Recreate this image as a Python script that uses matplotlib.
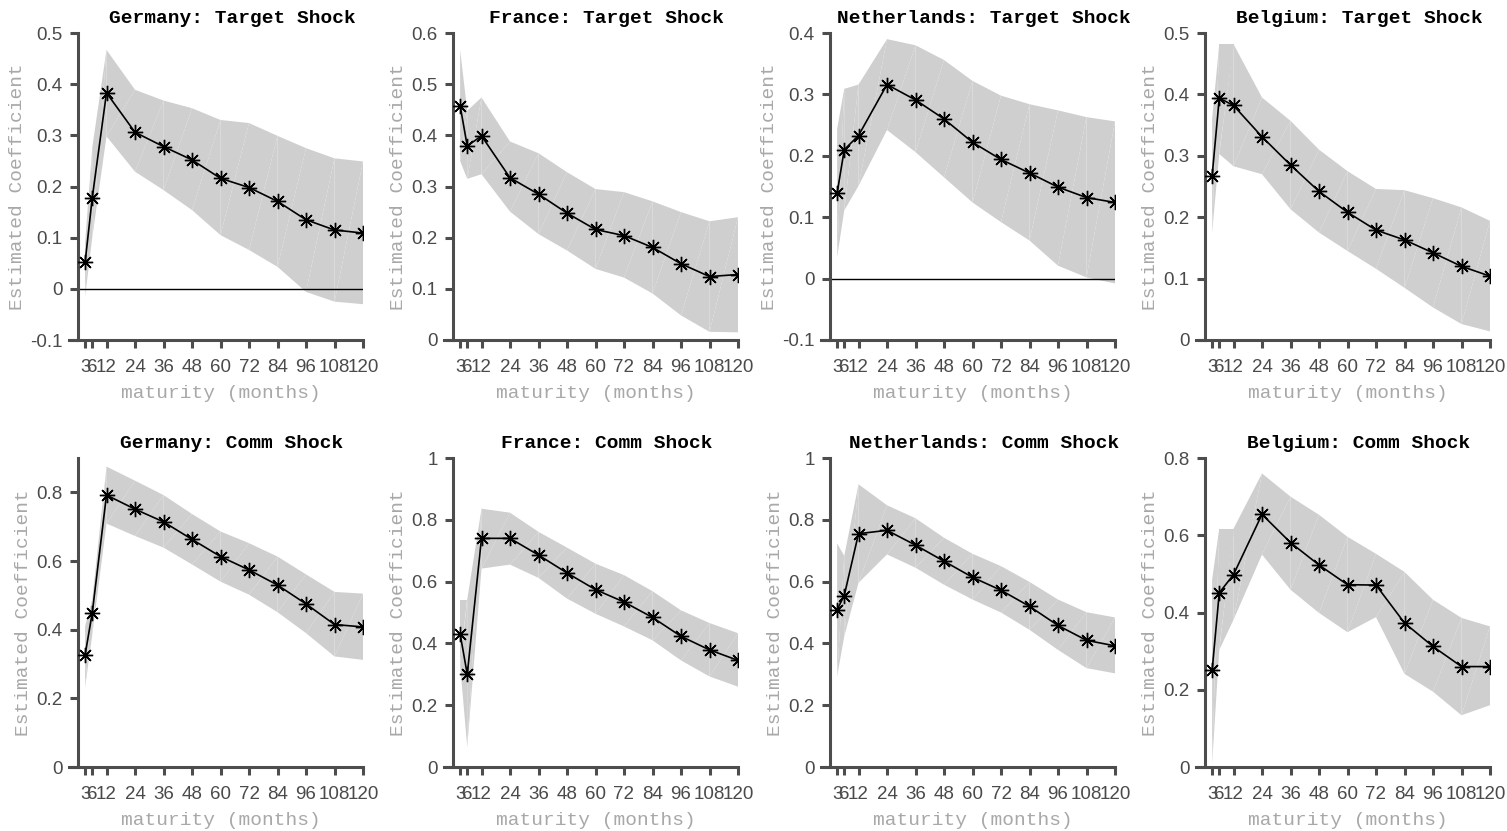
import numpy as np
import matplotlib
matplotlib.use("Agg")
import matplotlib.pyplot as plt
from matplotlib.collections import PolyCollection
from matplotlib.ticker import FuncFormatter

# ---------------- data ----------------
maturities = [3, 6, 12, 24, 36, 48, 60, 72, 84, 96, 108, 120]
tick_labels = ["3", "6", "12", "24", "36", "48", "60", "72", "84", "96", "108", "120"]

de_target_coef = [0.052, 0.178, 0.383, 0.306, 0.278, 0.252, 0.216, 0.198, 0.171, 0.135, 0.115, 0.109]
de_target_hi = [0.09, 0.276, 0.467, 0.389, 0.368, 0.353, 0.330, 0.324, 0.299, 0.275, 0.255, 0.249]
de_target_lo = [-0.015, 0.10, 0.298, 0.229, 0.193, 0.154, 0.105, 0.076, 0.043, -0.006, -0.025, -0.030]

fr_target_coef = [0.458, 0.379, 0.399, 0.317, 0.285, 0.248, 0.216, 0.204, 0.181, 0.149, 0.124, 0.128]
fr_target_hi = [0.567, 0.448, 0.474, 0.388, 0.365, 0.328, 0.295, 0.289, 0.271, 0.250, 0.232, 0.240]
fr_target_lo = [0.350, 0.315, 0.324, 0.251, 0.207, 0.175, 0.139, 0.122, 0.091, 0.048, 0.016, 0.015]

nl_target_coef = [0.139, 0.210, 0.233, 0.316, 0.291, 0.260, 0.222, 0.194, 0.172, 0.149, 0.132, 0.124]
nl_target_hi = [0.244, 0.309, 0.316, 0.390, 0.380, 0.356, 0.322, 0.298, 0.284, 0.274, 0.263, 0.256]
nl_target_lo = [0.035, 0.111, 0.151, 0.242, 0.206, 0.165, 0.124, 0.092, 0.062, 0.021, 0.002, -0.008]

be_target_coef = [0.267, 0.394, 0.382, 0.331, 0.285, 0.242, 0.208, 0.179, 0.163, 0.142, 0.120, 0.104]
be_target_hi = [0.36, 0.482, 0.482, 0.395, 0.357, 0.310, 0.275, 0.246, 0.244, 0.231, 0.216, 0.194]
be_target_lo = [0.175, 0.303, 0.283, 0.270, 0.213, 0.175, 0.145, 0.116, 0.085, 0.053, 0.026, 0.014]

de_comm_coef = [0.327, 0.449, 0.792, 0.751, 0.714, 0.663, 0.613, 0.574, 0.530, 0.475, 0.415, 0.408]
de_comm_hi = [0.41, 0.488, 0.875, 0.834, 0.792, 0.737, 0.686, 0.652, 0.613, 0.561, 0.510, 0.505]
de_comm_lo = [0.232, 0.385, 0.709, 0.673, 0.639, 0.590, 0.540, 0.502, 0.451, 0.390, 0.322, 0.312]

fr_comm_coef = [0.431, 0.300, 0.740, 0.740, 0.686, 0.628, 0.574, 0.534, 0.484, 0.423, 0.379, 0.345]
fr_comm_hi = [0.542, 0.542, 0.836, 0.823, 0.761, 0.710, 0.658, 0.621, 0.569, 0.507, 0.466, 0.433]
fr_comm_lo = [0.33, 0.065, 0.642, 0.655, 0.612, 0.545, 0.496, 0.455, 0.410, 0.345, 0.293, 0.260]

nl_comm_coef = [0.509, 0.555, 0.755, 0.766, 0.718, 0.666, 0.614, 0.572, 0.520, 0.458, 0.410, 0.392]
nl_comm_hi = [0.724, 0.683, 0.915, 0.847, 0.805, 0.742, 0.690, 0.650, 0.599, 0.542, 0.501, 0.484]
nl_comm_lo = [0.293, 0.423, 0.596, 0.688, 0.645, 0.590, 0.542, 0.500, 0.444, 0.379, 0.320, 0.303]

be_comm_coef = [0.250, 0.451, 0.498, 0.654, 0.581, 0.523, 0.472, 0.471, 0.373, 0.312, 0.260, 0.260]
be_comm_hi = [0.485, 0.617, 0.617, 0.760, 0.700, 0.653, 0.596, 0.552, 0.505, 0.433, 0.386, 0.364]
be_comm_lo = [0.009, 0.303, 0.381, 0.550, 0.459, 0.399, 0.349, 0.388, 0.241, 0.195, 0.134, 0.160]

titles = ["Germany: Target Shock", "France: Target Shock", "Netherlands: Target Shock", "Belgium: Target Shock",
          "Germany: Comm Shock", "France: Comm Shock", "Netherlands: Comm Shock", "Belgium: Comm Shock"]
coefs = [de_target_coef, fr_target_coef, nl_target_coef, be_target_coef,
         de_comm_coef, fr_comm_coef, nl_comm_coef, be_comm_coef]
his = [de_target_hi, fr_target_hi, nl_target_hi, be_target_hi,
       de_comm_hi, fr_comm_hi, nl_comm_hi, be_comm_hi]
los = [de_target_lo, fr_target_lo, nl_target_lo, be_target_lo,
       de_comm_lo, fr_comm_lo, nl_comm_lo, be_comm_lo]
ylims = [(-0.1, 0.5), (0, 0.6), (-0.1, 0.4), (0, 0.5),
         (0, 0.9), (0, 1.0), (0, 1.0), (0, 0.8)]
yticks = [[-0.1, 0, 0.1, 0.2, 0.3, 0.4, 0.5], [0, 0.1, 0.2, 0.3, 0.4, 0.5, 0.6],
          [-0.1, 0, 0.1, 0.2, 0.3, 0.4], [0, 0.1, 0.2, 0.3, 0.4, 0.5],
          [0, 0.2, 0.4, 0.6, 0.8], [0, 0.2, 0.4, 0.6, 0.8, 1.0],
          [0, 0.2, 0.4, 0.6, 0.8, 1.0], [0, 0.2, 0.4, 0.6, 0.8]]
zero_line = [True, False, True, False, False, False, False, False]

# ---------------- layout ----------------
W, H = 1507, 831
fig = plt.figure(figsize=(W / 100, H / 100), dpi=100)
fig.patch.set_facecolor("white")

lefts_px = [78, 453, 830, 1205]
width_px = 285
rows_px = [(33, 340), (458, 767)]

axis_col = "#4d4d4d"
tick_col = "#4a4a4a"
label_col = "#a8a8a8"
band_col = "#cfcfcf"
mono = ["Liberation Mono", "DejaVu Sans Mono"]
sans = ["Liberation Sans", "DejaVu Sans"]

for i in range(8):
    r, c = divmod(i, 4)
    top, bot = rows_px[r]
    ax = fig.add_axes([lefts_px[c] / W, 1 - bot / H, width_px / W, (bot - top) / H])
    x = np.array(maturities, dtype=float)
    lo = np.array(los[i])
    hi = np.array(his[i])
    polys = []
    for k in range(len(x) - 1):
        polys.append([(x[k], lo[k]), (x[k], hi[k]), (x[k + 1], hi[k + 1])])
        polys.append([(x[k], lo[k]), (x[k + 1], hi[k + 1]), (x[k + 1], lo[k + 1])])
    pc = PolyCollection(polys, facecolors=band_col, edgecolors="none", linewidths=0,
                        antialiased=True, zorder=1)
    ax.add_collection(pc)
    if zero_line[i]:
        ax.axhline(0, color="black", lw=1.0, zorder=2)
    ax.plot(maturities, coefs[i], color="black", lw=1.2, marker=(8, 2, 0),
            markersize=11, markeredgewidth=1.0, zorder=3)

    ax.set_xlim(0, 120)
    ax.set_ylim(*ylims[i])
    ax.set_xticks(maturities)
    ax.set_xticklabels(tick_labels)
    ax.set_yticks(yticks[i])
    ax.yaxis.set_major_formatter(FuncFormatter(lambda v, p: f"{v:g}"))

    for s in ["top", "right"]:
        ax.spines[s].set_visible(False)
    for s in ["left", "bottom"]:
        ax.spines[s].set_color(axis_col)
        ax.spines[s].set_linewidth(2.2)
    ax.spines["bottom"].set_bounds(-4, 120)
    ax.tick_params(axis="both", direction="out", length=6, width=2.2, color=axis_col,
                   labelcolor=tick_col, labelsize=13.5)
    ax.tick_params(axis="x", pad=8)
    ax.tick_params(axis="y", pad=5)
    for lab in ax.get_xticklabels() + ax.get_yticklabels():
        lab.set_fontfamily(sans)

    ax.set_xlabel("maturity (months)", family=mono, fontsize=14, color=label_col, labelpad=6)
    ax.set_ylabel("Estimated Coefficient", family=mono, fontsize=14, color=label_col, labelpad=3)
    ax.set_title(titles[i], family=mono, fontsize=14, fontweight="bold", color="black",
                 x=0.54, pad=7)

fig.savefig("out.png", dpi=100, facecolor="white")
